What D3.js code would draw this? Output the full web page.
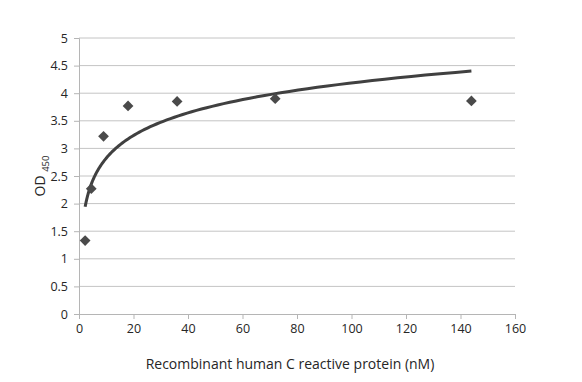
<!DOCTYPE html>
<html>
<head>
<meta charset="utf-8">
<script src="https://cdn.jsdelivr.net/npm/d3@7"></script>
<style>
  body { margin: 0; background: #fff; }
  text { font-family: "Open Sans", "Liberation Sans", sans-serif; fill: #262626; }
</style>
</head>
<body>
<svg width="582" height="382"></svg>
<script>
// concentrations (nM) and OD450 readings
var conc = [2.25, 4.5, 9, 18, 36, 72, 144];
var od = [1.33, 2.27, 3.22, 3.77, 3.85, 3.9, 3.86];
var xTicks = [0, 20, 40, 60, 80, 100, 120, 140, 160];
var yTicks = [0, 0.5, 1, 1.5, 2, 2.5, 3, 3.5, 4, 4.5, 5];

var svg = d3.select('svg'),
    margin = {top: 38, right: 67, bottom: 68, left: 79},
    width = +svg.attr('width') - margin.left - margin.right,
    height = +svg.attr('height') - margin.top - margin.bottom,
    x = d3.scaleLinear().domain([0, 160]).range([0, width]),
    y = d3.scaleLinear().domain([0, 5]).range([height, 0]),
    g = svg.append('g').attr('transform', 'translate(' + margin.left + ',' + margin.top + ')');

// gridlines
g.selectAll('.grid')
  .data(yTicks.slice(1))
  .enter().append('line')
    .attr('x1', 0).attr('x2', width)
    .attr('y1', function(d) { return y(d); })
    .attr('y2', function(d) { return y(d); })
    .attr('stroke', '#c4c4c4').attr('stroke-width', 1);

// axes
var yAxis = g.append('g')
    .call(d3.axisLeft(y).tickValues(yTicks).tickSize(5).tickPadding(6).tickFormat(d3.format('')));
var xAxis = g.append('g')
    .attr('transform', 'translate(0,' + height + ')')
    .call(d3.axisBottom(x).tickValues(xTicks).tickSize(5).tickPadding(5));

[yAxis, xAxis].forEach(function(a) {
  a.selectAll('path, line').attr('stroke', '#b5b5b5');
  a.selectAll('text').style('font-size', '12.5px').attr('fill', '#262626');
  a.attr('font-family', null);
});

// logarithmic trendline (least squares on ln x)
var lx = conc.map(Math.log),
    mx = d3.mean(lx), my = d3.mean(od),
    a = d3.sum(lx, function(v, i) { return (v - mx) * (od[i] - my); }) /
        d3.sum(lx, function(v) { return (v - mx) * (v - mx); }),
    b = my - a * mx;
var fit = d3.range(0, 101).map(function(i) {
  var c = Math.exp(Math.log(conc[0]) + i / 100 * (Math.log(conc[conc.length - 1]) - Math.log(conc[0])));
  return [c, a * Math.log(c) + b];
});
g.append('path')
  .datum(fit)
  .attr('fill', 'none')
  .attr('stroke', '#404040')
  .attr('stroke-width', 3)
  .attr('d', d3.line().x(function(d) { return x(d[0]); }).y(function(d) { return y(d[1]); }));

// markers
g.selectAll('.pt')
  .data(conc)
  .enter().append('path')
    .attr('transform', function(d, i) { return 'translate(' + x(d) + ',' + y(od[i]) + ') rotate(45)'; })
    .attr('d', 'M-3.8,-3.8h7.6v7.6h-7.6z')
    .attr('fill', '#4a4a4a');

// axis titles
svg.append('text')
  .attr('x', 290).attr('y', 369)
  .attr('text-anchor', 'middle')
  .style('font-size', '14px')
  .text('Recombinant human C reactive protein (nM)');

var yt = svg.append('text')
  .attr('transform', 'translate(45,' + 176 + ') rotate(-90)')
  .attr('text-anchor', 'middle')
  .style('font-size', '14px');
yt.append('tspan').text('OD ');
yt.append('tspan').attr('dy', 4).style('font-size', '9.5px').text('450');
</script>
</body>
</html>
